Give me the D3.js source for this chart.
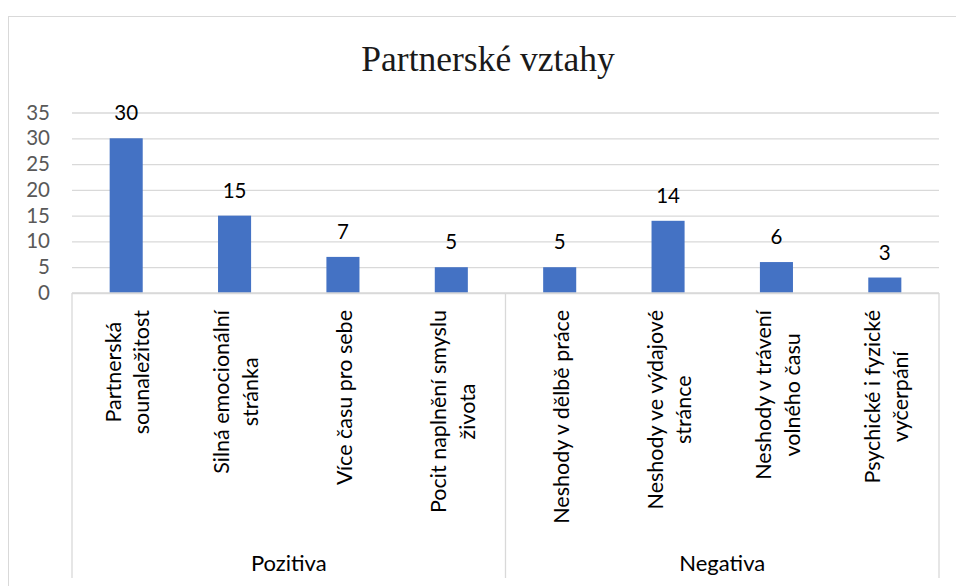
<!DOCTYPE html>
<html>
<head>
<meta charset="utf-8">
<script src="https://cdn.jsdelivr.net/npm/d3@7"></script>
<style>
  body { margin: 0; background: #fff; }
  svg { display: block; }
  text { font-family: Lato, "Open Sans", sans-serif; }
</style>
</head>
<body>
<div id="chart"></div>
<script>
// data
var title = "Partnerské vztahy";
var groups = ["Pozitiva", "Negativa"];
var categories = [
  "Partnerská\nsounaležitost",
  "Silná emocionální\nstránka",
  "Více času pro sebe",
  "Pocit naplnění smyslu\nživota",
  "Neshody v dělbě práce",
  "Neshody ve výdajové\nstránce",
  "Neshody v trávení\nvolného času",
  "Psychické i fyzické\nvyčerpání"
];
var categoryGroup = ["Pozitiva", "Pozitiva", "Pozitiva", "Pozitiva",
                     "Negativa", "Negativa", "Negativa", "Negativa"];
var values = [30, 15, 7, 5, 5, 14, 6, 3];
var yTicks = [0, 5, 10, 15, 20, 25, 30, 35];

var svgWidth = 956;
var svgHeight = 586;

var plot = { left: 72, right: 939, top: 112.5, bottom: 293 };
var axisBottom = 578;

var svg = d3.select("#chart")
  .append("svg")
  .attr("width", svgWidth)
  .attr("height", svgHeight);

// chart border (runs off the right and bottom edge)
svg.append("rect")
  .attr("x", 8.5)
  .attr("y", 16.5)
  .attr("width", 1000)
  .attr("height", 700)
  .attr("fill", "#fff")
  .attr("stroke", "#d9d9d9")
  .attr("stroke-width", 1);

// title
svg.append("text")
  .attr("x", 488)
  .attr("y", 71)
  .attr("text-anchor", "middle")
  .style("font-family", "'Liberation Serif', 'DejaVu Serif', serif")
  .style("font-size", "35.5px")
  .attr("fill", "#1a1a1a")
  .text(title);

// scales
var x = d3.scaleBand()
  .domain(categories)
  .range([plot.left, plot.right])
  .paddingInner(0.695)
  .paddingOuter(0.3475);

var slot = d3.scaleBand()
  .domain(categories)
  .range([plot.left, plot.right]);

var xGroup = d3.scaleBand()
  .domain(groups)
  .range([plot.left, plot.right]);

var y = d3.scaleLinear()
  .domain([0, 35])
  .range([plot.bottom, plot.top]);

// gridlines
var grid = svg.append("g")
  .attr("transform", `translate(${plot.left},0)`)
  .call(d3.axisLeft(y).tickValues(yTicks).tickSize(-(plot.right - plot.left)).tickFormat(""));
grid.select(".domain").remove();
grid.selectAll(".tick line").attr("stroke", "#d9d9d9").attr("stroke-width", 1.3);

// y labels
var yAxis = svg.append("g")
  .attr("transform", "translate(50,0)")
  .call(d3.axisLeft(y).tickValues(yTicks).tickSize(0).tickPadding(0));
yAxis.select(".domain").remove();
yAxis.selectAll("text")
  .attr("fill", "#595959")
  .style("font-size", "20.5px")
  .style("font-family", "Lato, sans-serif");

// bars
svg.selectAll("rect.bar")
  .data(values)
  .enter()
  .append("rect")
  .attr("class", "bar")
  .attr("x", (d, i) => x(categories[i]))
  .attr("y", d => y(d))
  .attr("width", x.bandwidth())
  .attr("height", d => y(0) - y(d))
  .attr("fill", "#4472c4");

// value labels
svg.selectAll("text.value")
  .data(values)
  .enter()
  .append("text")
  .attr("class", "value")
  .attr("x", (d, i) => x(categories[i]) + x.bandwidth() / 2)
  .attr("y", d => y(d) - 18)
  .attr("text-anchor", "middle")
  .attr("fill", "#000")
  .style("font-size", "20.5px")
  .text(d => d);

// category axis frame
var frame = svg.append("g")
  .attr("stroke", "#d9d9d9")
  .attr("stroke-width", 1.3);
frame.append("line")
  .attr("x1", plot.left).attr("x2", plot.right)
  .attr("y1", y(0)).attr("y2", y(0));
var seps = [plot.left].concat(groups.map(g => xGroup(g) + xGroup.bandwidth()));
frame.selectAll("line.sep")
  .data(seps)
  .enter()
  .append("line")
  .attr("class", "sep")
  .attr("x1", d => d).attr("x2", d => d)
  .attr("y1", y(0)).attr("y2", axisBottom);

// rotated category labels
var lh = 28.5;
categories.forEach(function(c, i) {
  var lines = c.split("\n");
  var cx = slot(c) + slot.bandwidth() / 2;
  var g = svg.append("g")
    .attr("transform", `translate(${cx},310) rotate(-90)`);
  var t = g.append("text")
    .attr("text-anchor", "middle")
    .attr("fill", "#000")
    .style("font-size", "21.5px");
  lines.forEach(function(l, j) {
    t.append("tspan")
      .attr("x", 0)
      .attr("y", (j - (lines.length - 1) / 2) * lh + 9)
      .text(l);
  });
  var maxW = d3.max(t.selectAll("tspan").nodes(), n => n.getComputedTextLength());
  t.selectAll("tspan").attr("x", -maxW / 2);
});

// group labels
svg.selectAll("text.group")
  .data(groups)
  .enter()
  .append("text")
  .attr("class", "group")
  .attr("x", d => xGroup(d) + xGroup.bandwidth() / 2)
  .attr("y", 571)
  .attr("text-anchor", "middle")
  .attr("fill", "#000")
  .style("font-size", "22px")
  .text(d => d);
</script>
</body>
</html>
